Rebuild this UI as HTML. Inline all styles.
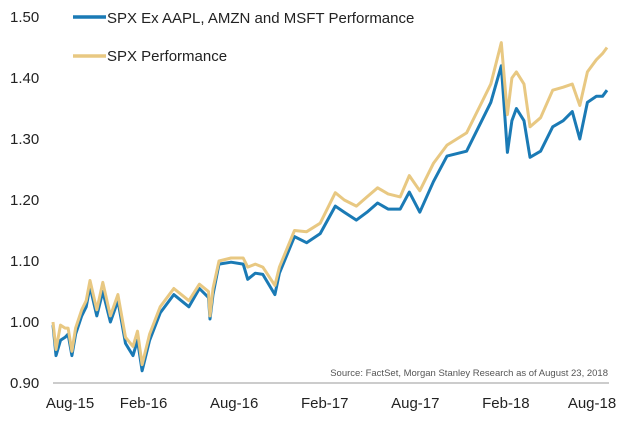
<!DOCTYPE html>
<html><head><meta charset="utf-8"><style>
body{margin:0;background:#fff;}
svg text{font-family:"Liberation Sans",sans-serif;}
</style></head><body>
<svg id="chart" width="640" height="423" viewBox="0 0 640 423" xmlns="http://www.w3.org/2000/svg">
<g id="yaxis"></g>
<g id="xaxis"></g>
<line x1="53" y1="383" x2="609" y2="383" stroke="#bbb" stroke-width="1.5"/>
<g id="series"></g>
<g>
<line x1="73" y1="17" x2="106" y2="17" stroke="#1a7ab5" stroke-width="3.5"/>
<text x="107" y="23" font-size="15" fill="#222">SPX Ex AAPL, AMZN and MSFT Performance</text>
<line x1="73" y1="56" x2="106" y2="56" stroke="#e8c882" stroke-width="3.5"/>
<text x="107" y="61" font-size="15" fill="#222">SPX Performance</text>
</g>
<text x="608" y="376" font-size="9.5" fill="#555" text-anchor="end">Source: FactSet, Morgan Stanley Research as of August 23, 2018</text>
</svg>
<script>
const yTicks=[0.90,1.00,1.10,1.20,1.30,1.40,1.50];
const xLabels=["Aug-15","Feb-16","Aug-16","Feb-17","Aug-17","Feb-18","Aug-18"];
const xLabelMonths=[0,6,12,18,24,30,36];
const months=[0,0.2,0.5,0.8,1.0,1.25,1.5,1.9,2.2,2.45,2.9,3.3,3.8,4.3,4.8,5.3,5.6,5.9,6.4,7.1,8,8.5,9,9.7,10.3,10.4,10.6,11,11.8,12.6,12.9,13.4,13.9,14.7,15,16,16.8,17.7,18.7,19.3,20.1,20.8,21.5,22.2,23,23.6,24.3,25.2,26.1,27.4,28.3,29,29.7,30.1,30.4,30.7,31.2,31.6,32.3,33.1,33.8,34.4,34.9,35.4,36,36.4,36.7];
const spx=[1.00,0.955,0.995,0.99,0.99,0.952,0.99,1.02,1.035,1.068,1.02,1.065,1.01,1.045,0.975,0.96,0.985,0.93,0.98,1.025,1.055,1.045,1.035,1.062,1.05,1.01,1.055,1.10,1.105,1.105,1.09,1.095,1.09,1.06,1.09,1.15,1.148,1.162,1.212,1.20,1.19,1.205,1.22,1.21,1.205,1.24,1.215,1.26,1.29,1.31,1.355,1.39,1.458,1.34,1.40,1.41,1.39,1.32,1.335,1.38,1.385,1.39,1.355,1.41,1.43,1.44,1.45];
const exTech=[0.995,0.945,0.97,0.975,0.98,0.945,0.98,1.01,1.025,1.058,1.01,1.05,1.0,1.035,0.965,0.945,0.97,0.92,0.97,1.015,1.045,1.035,1.025,1.055,1.04,1.005,1.045,1.095,1.098,1.095,1.07,1.08,1.078,1.045,1.08,1.14,1.13,1.145,1.19,1.18,1.167,1.18,1.195,1.185,1.185,1.213,1.18,1.23,1.272,1.28,1.325,1.36,1.42,1.278,1.33,1.35,1.33,1.27,1.28,1.32,1.33,1.345,1.30,1.36,1.37,1.37,1.38];
const NS="http://www.w3.org/2000/svg";
const x=m=>53+m*(554/36.7);
const y=v=>383-(v-0.9)*610;
const yg=document.getElementById('yaxis');
yTicks.forEach(v=>{const t=document.createElementNS(NS,'text');


t.setAttribute('x',10);t.setAttribute('y',y(v)+5);t.setAttribute('font-size','15');t.setAttribute('fill','#222');t.textContent=v.toFixed(2);yg.appendChild(t);});
const xg=document.getElementById('xaxis');
xLabels.forEach((l,i)=>{const t=document.createElementNS(NS,'text');


let cx=Math.min(Math.max(x(xLabelMonths[i]),70),592);
t.setAttribute('x',cx);t.setAttribute('y',408);t.setAttribute('font-size','15');t.setAttribute('fill','#222');t.setAttribute('text-anchor','middle');t.textContent=l;xg.appendChild(t);});
const sg=document.getElementById('series');
function line(vals,color,name){const p=document.createElementNS(NS,'path');


p.setAttribute('d',vals.map((v,i)=>(i?'L':'M')+x(months[i]).toFixed(1)+','+y(v).toFixed(1)).join(''));
p.setAttribute('fill','none');p.setAttribute('stroke',color);p.setAttribute('stroke-width','3');p.setAttribute('stroke-linejoin','round');sg.appendChild(p);}
line(exTech,'#1a7ab5','spx-ex-line');
line(spx,'#e8c882','spx-line');
</script>
</body></html>
